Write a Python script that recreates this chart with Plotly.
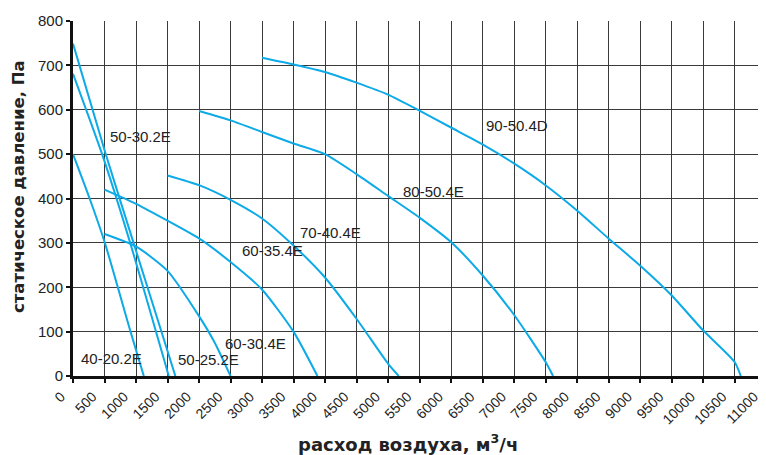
import plotly.graph_objects as go

# ---- data ----
q_40_202 = [0, 264, 506, 913, 1124]
p_40_202 = [500, 400, 300, 100, 0]

q_50_302 = [0, 518, 950, 1625]
p_50_302 = [749, 501, 305, 0]

q_50_252 = [0, 459, 897, 1520]
p_50_252 = [681, 501, 305, 0]

q_60_304 = [500, 1000, 1500, 2000, 2250, 2500]
p_60_304 = [320, 292, 237, 135, 75, 0]

q_60_354 = [500, 1000, 1500, 2000, 2500, 3000, 3500, 3880]
p_60_354 = [420, 388, 350, 310, 257, 195, 100, 0]

q_70_404 = [1500, 2000, 2500, 3000, 3500, 4000, 4500, 5000, 5170]
p_70_404 = [452, 430, 397, 355, 294, 222, 129, 28, 0]

q_80_504 = [2000, 2500, 3000, 3500, 4000, 4500, 5000, 5500, 6000, 6500, 7000, 7500, 7620]
p_80_504 = [597, 576, 550, 524, 500, 455, 406, 357, 302, 227, 138, 32, 0]

q_90_504 = [3000, 3500, 4000, 4500, 5000, 5500, 6000, 6500, 7000, 7500, 8000, 8500, 9000, 9500, 10000, 10500, 10600]
p_90_504 = [717, 702, 685, 661, 634, 598, 560, 522, 479, 430, 373, 310, 249, 182, 103, 32, 0]

series = [
    ("40-20.2E", q_40_202, p_40_202),
    ("50-30.2E", q_50_302, p_50_302),
    ("50-25.2E", q_50_252, p_50_252),
    ("60-30.4E", q_60_304, p_60_304),
    ("60-35.4E", q_60_354, p_60_354),
    ("70-40.4E", q_70_404, p_70_404),
    ("80-50.4E", q_80_504, p_80_504),
    ("90-50.4D", q_90_504, p_90_504),
]

label_text = ["50-30.2E", "40-20.2E", "50-25.2E", "60-30.4E", "60-35.4E", "70-40.4E", "80-50.4E", "90-50.4D"]
label_q = [1071, 608, 2143, 2892, 3160, 4090, 5725, 7055]
label_p = [540, 39, 37, 73, 283, 324, 415, 565]

x_ticks = list(range(0, 11001, 500))
y_ticks = list(range(0, 801, 100))

x_title = "<b>расход воздуха, м<sup>3</sup>/ч</b>"
y_title = "<b>статическое давление, Па</b>"

LINE = "#0DAAE8"
GRID = "#3a3a3a"
TEXT_FONT = "Liberation Sans, Arial, sans-serif"
TITLE_FONT = "DejaVu Sans, sans-serif"

fig = go.Figure()
for name, q, p in series:
    fig.add_trace(go.Scatter(
        x=q, y=p, mode="lines", name=name,
        line=dict(color=LINE, width=2, shape="spline", smoothing=0.6),
        showlegend=False, hoverinfo="x+y+name",
    ))

for t, q, p in zip(label_text, label_q, label_p):
    fig.add_annotation(x=q, y=p, text=t, showarrow=False,
                       font=dict(family=TEXT_FONT, size=15, color="#222"))

# axis titles as paper-anchored annotations
fig.add_annotation(xref="paper", yref="paper", x=0.484, y=-0.19,
                   xanchor="center", yanchor="middle", text=x_title, showarrow=False,
                   font=dict(family=TITLE_FONT, size=18, color="#222"))
fig.add_annotation(xref="paper", yref="paper", x=-0.0794, y=0.535,
                   xanchor="center", yanchor="middle", text=y_title, showarrow=False,
                   textangle=-90, font=dict(family=TITLE_FONT, size=16.5, color="#222"))

# page body has an 8px margin: figure is sized to fill the rest of the window
fig.update_layout(
    width=758, height=447,
    margin=dict(l=65, r=0, t=13, b=79),
    paper_bgcolor="white", plot_bgcolor="white",
    font=dict(family=TEXT_FONT, color="#222"),
)
fig.update_xaxes(
    range=[0, 11000], tickvals=x_ticks, ticktext=[str(v) for v in x_ticks],
    tickangle=-45, tickfont=dict(size=14, color="#222"),
    ticklabelshift=-12, ticklabeloverflow="allow",
    showgrid=True, gridcolor=GRID, gridwidth=1,
    showline=True, linecolor="#111", linewidth=3,
    ticks="outside", ticklen=4, tickwidth=2, tickcolor="#111",
    zeroline=False, automargin=False,
)
fig.update_yaxes(
    range=[0, 800], tickvals=y_ticks, ticktext=[str(v) for v in y_ticks],
    tickfont=dict(size=15, color="#222"),
    showgrid=True, gridcolor=GRID, gridwidth=1,
    showline=True, linecolor="#111", linewidth=3,
    ticks="outside", ticklen=4, tickwidth=2, tickcolor="#111",
    zeroline=False, automargin=False,
)

fig.write_html("out.html")
